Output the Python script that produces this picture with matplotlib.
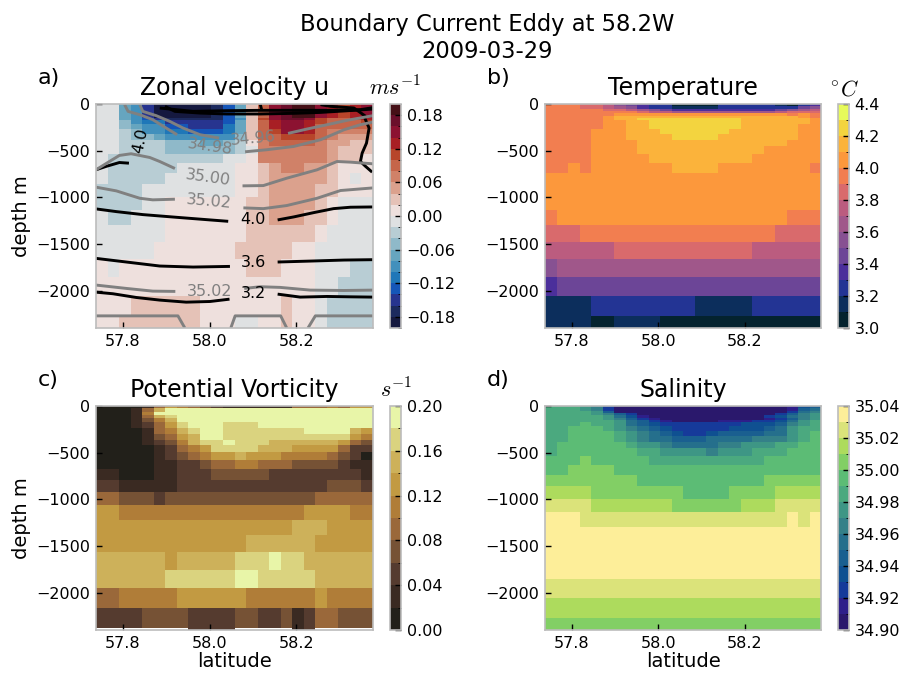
import numpy as np
import matplotlib
matplotlib.use('Agg')
import matplotlib.pyplot as plt
from matplotlib.colors import ListedColormap, BoundaryNorm
from matplotlib.ticker import FuncFormatter

plt.rcParams['mathtext.fontset'] = 'cm'
plt.rcParams['xtick.direction'] = 'in'
plt.rcParams['ytick.direction'] = 'in'
plt.rcParams['axes.edgecolor'] = '#bcbcbc'
plt.rcParams['axes.linewidth'] = 1.2

# grid
lat_edges = np.linspace(57.738, 58.377, 25)
depth_edges = [0, 25, 50, 75, 100, 125, 150, 175, 218, 268, 326, 383, 455, 533, 633, 734,
               859, 992, 1138, 1296, 1475, 1661, 1851, 2059, 2270, 2496]
pv_depth_edges = [0, 25, 61, 97, 132, 175, 240, 301, 365, 419, 490, 580, 680, 795, 920,
                  1063, 1224, 1385, 1564, 1754, 1951, 2162, 2381, 2410]

# colours
u_colors = ['#15193f', '#1c2a5e', '#27348f', '#1556b8', '#1f77b8', '#4290bc', '#66a5bf',
            '#8fb9c9', '#b8cdd4', '#dfe1e2', '#eee0dd', '#e5c2b7', '#dba18d', '#d08168',
            '#c5654a', '#b7452a', '#a81f24', '#8c1231', '#6b0f2b', '#451017']
t_colors = ['#04232f', '#0c2e5c', '#233494', '#4b2f9b', '#6c4597', '#875192', '#a0578a',
            '#bb5c7f', '#d96a6c', '#f27e50', '#fc983c', '#fbb33b', '#f3d43f', '#e7fa5a']
pv_colors = ['#22201a', '#3a2a22', '#553b2f', '#765235', '#9a683a', '#b07d38', '#c29a42',
             '#cdb15a', '#dad37f', '#e8f5a8']
s_colors = ['#2a186c', '#2e1f8a', '#163a9a', '#0f5091', '#1a5f90', '#256f8c', '#348088',
            '#3e9685', '#4ba97f', '#5cbc75', '#82cf65', '#addb5d', '#dbe37a', '#fdee99']

u_top = [-0.01]*2 + [-0.07, -0.09, -0.15] + [-0.19]*5 + [-0.17, -0.13, -0.07, 0.03, 0.09, 0.15, 0.17,
                                                         0.19, 0.19, 0.15, 0.13, 0.11, 0.13, 0.15]
u = [
    u_top, u_top, u_top, u_top, u_top, u_top,
    [-0.01]*2 + [-0.07, -0.09, -0.13, -0.15, -0.17, -0.17] + [-0.17]*3 + [-0.13, -0.09, 0.03, 0.11, 0.15, 0.17, 0.17, 0.15, 0.11, 0.09, 0.09, 0.11, 0.13],
    [-0.01]*2 + [-0.05, -0.09, -0.11, -0.11, -0.15, -0.15] + [-0.15]*3 + [-0.13, -0.07, 0.03, 0.09, 0.13, 0.15, 0.15, 0.13, 0.11, 0.09, 0.09, 0.09, 0.11],
    [-0.01]*2 + [-0.05, -0.07, -0.09, -0.09, -0.13, -0.13] + [-0.15]*3 + [-0.11, -0.07, 0.03, 0.09, 0.13, 0.15, 0.15, 0.13, 0.09, 0.09, 0.09, 0.09, 0.09],
    [-0.01]*2 + [-0.03, -0.05, -0.09, -0.09, -0.11, -0.11] + [-0.13]*3 + [-0.11, -0.07, 0.03, 0.09, 0.11, 0.15, 0.15, 0.13, 0.09, 0.07, 0.07, 0.07, 0.07],
    [-0.01]*2 + [-0.03, -0.05, -0.05, -0.07] + [-0.09]*6 + [-0.05, 0.03, 0.09, 0.09] + [0.11]*3 + [0.09, 0.07, 0.05, 0.05, 0.05],
    [-0.01]*2 + [-0.03]*4 + [-0.05]*3 + [-0.07]*2 + [-0.05, -0.03, 0.01, 0.07] + [0.09]*4 + [0.07, 0.05, 0.05, 0.03, 0.03],
    [-0.01]*2 + [-0.03]*4 + [-0.05]*6 + [-0.03, -0.01] + [0.07]*6 + [0.05, 0.03, 0.03, 0.03],
    [-0.01] + [-0.03]*10 + [-0.01]*2 + [0.01] + [0.07]*6 + [0.05, 0.03, 0.03, 0.01],
    [-0.01] + [-0.03]*6 + [-0.01]*5 + [0.01]*2 + [0.03] + [0.05, 0.07, 0.07, 0.05] + [0.05, 0.03, 0.01, 0.01, 0.01],
    [-0.01] + [-0.03]*5 + [-0.01]*6 + [0.01]*2 + [0.03] + [0.05]*5 + [0.03, 0.01, -0.01, 0.01],
    [-0.03]*4 + [-0.01]*8 + [0.01]*2 + [0.03] + [0.05]*4 + [0.03, 0.03, 0.01, 0.01, 0.01],
    [-0.03]*4 + [-0.01]*2 + [0.01]*7 + [0.03]*2 + [0.05]*4 + [0.03, 0.01] + [-0.01]*3,
    [-0.01, -0.03, -0.03] + [-0.01]*3 + [0.01]*7 + [0.03]*2 + [0.05]*3 + [0.03]*2 + [0.01] + [-0.01]*3,
    [-0.01]*6 + [0.01]*7 + [0.03]*6 + [0.01] + [-0.01]*4,
    [-0.01]*5 + [0.01]*7 + [0.03]*5 + [0.01]*2 + [-0.01]*5,
    [0.01] + [-0.01] + [0.01]*11 + [0.03]*3 + [0.01]*3 + [-0.01]*3 + [-0.03]*2,
    [0.01]*19 + [-0.01]*2 + [-0.03]*3,
    [0.01]*3 + [0.03]*6 + [0.01]*7 + [0.03, 0.01, 0.01, -0.01] + [-0.03]*4,
    [0.01]*2 + [0.03]*7 + [0.01]*3 + [-0.01]*2 + [0.01]*2 + [0.03, 0.01, 0.01, -0.01] + [-0.03]*4,
]

temp = [
    [3.95]*3 + [3.85]*2 + [3.75, 3.55, 3.45, 3.35, 3.25, 3.25] + [3.05]*4 + [3.25]*5 + [3.15, 3.05, 3.25, 3.35],
    [3.95]*3 + [3.85]*2 + [3.75, 3.65, 3.55, 3.35, 3.25, 3.25] + [3.15]*4 + [3.25]*5 + [3.25, 3.25, 3.45, 3.55],
    [3.95]*5 + [3.85] + [3.85, 3.75, 3.65, 3.55, 3.45] + [3.35]*9 + [3.45, 3.55, 3.65, 3.75],
    [3.95]*6 + [3.95, 3.95, 3.85, 3.75, 3.75] + [3.65]*9 + [3.75, 3.85, 3.85, 3.85],
    [3.95]*6 + [4.05]*15 + [3.95, 4.05, 3.95],
    [3.95]*5 + [4.05] + [4.15]*16 + [4.05, 3.95],
    [3.95]*5 + [4.05, 4.15, 4.15, 4.25] + [4.25]*8 + [4.15]*6 + [4.05],
    [3.95]*5 + [4.05, 4.05, 4.15, 4.15] + [4.25]*8 + [4.15]*6 + [4.05],
    [3.95]*5 + [4.05]*2 + [4.15]*2 + [4.25]*8 + [4.15]*5 + [4.05]*2,
    [3.95]*4 + [4.05]*3 + [4.15]*3 + [4.25]*6 + [4.15]*6 + [4.05]*2,
    [3.95]*4 + [4.05]*3 + [4.15]*4 + [4.25]*4 + [4.15]*7 + [4.05]*2,
    [3.95]*4 + [4.05]*4 + [4.15]*13 + [4.05]*3,
    [3.95]*4 + [4.05]*4 + [4.15]*11 + [4.05]*5,
    [3.95]*4 + [4.05]*5 + [4.15]*9 + [4.05]*6,
    [3.95, 3.95, 4.05, 3.95] + [4.05]*7 + [4.15]*4 + [4.05]*8 + [3.95],
    [4.05]*24,
    [4.05]*24,
    [4.05]*24,
    [3.95] + [4.05]*20 + [3.95]*3,
    [3.85]*3 + [3.95]*17 + [3.85]*4,
    [3.75]*6 + [3.85]*12 + [3.75]*6,
    [3.55] + [3.65]*23,
    [3.35] + [3.45]*23,
    [3.15]*4 + [3.25]*9 + [3.15]*5 + [3.25]*6,
    [3.15]*4 + [3.05]*2 + [3.15]*4 + [3.05]*14,
]

nan = float('nan')
pv = [
    [0.01]*4 + [0.03, 0.09, 0.13, 0.11, 0.09, 0.07, 0.05] + [0.03]*6 + [0.09]*3 + [0.11, 0.09, 0.13, 0.13],
    [0.01]*3 + [0.03, 0.09, 0.15] + [0.19]*18,
    [0.01]*3 + [0.03, 0.11, 0.19] + [0.19]*18,
    [0.01]*3 + [0.03, 0.09, 0.15, 0.17] + [0.19]*17,
    [0.01]*3 + [0.03, 0.07, 0.11, 0.15] + [0.19]*17,
    [0.01]*3 + [0.03, 0.05, 0.09, 0.13, 0.17] + [0.19]*3 + [0.17]*3 + [0.19]*10,
    [0.01]*4 + [0.03, 0.09, 0.11, 0.15, 0.17, 0.19, 0.19] + [0.17]*7 + [0.19]*4 + [0.15, 0.13],
    [0.01]*4 + [0.03, 0.07, 0.09, 0.13, 0.15, 0.19, 0.19] + [0.17]*11 + [0.13, 0.11],
    [0.01]*4 + [0.03, 0.05, 0.07, 0.11, 0.15, 0.17, 0.17, 0.19] + [0.17]*3 + [0.15]*6 + [0.13, 0.09, 0.07],
    [0.01]*5 + [0.03, 0.05, 0.09, 0.11, 0.13] + [0.17]*4 + [0.15]*3 + [0.13]*4 + [0.09, 0.05, 0.05],
    [0.01]*5 + [0.03, 0.05, 0.07, 0.09, 0.11, 0.13, 0.13, 0.15] + [0.13]*3 + [0.11]*4 + [0.09, 0.07, 0.05, 0.01],
    [0.01]*5 + [0.03, 0.03, 0.05, 0.05, 0.07, 0.09, 0.09, 0.11, 0.11] + [0.09]*3 + [0.07]*4 + [0.05, 0.03, 0.03],
    [0.03]*2 + [0.01]*3 + [0.03]*2 + [0.05]*3 + [0.07]*5 + [0.05]*8 + [0.03],
    [0.05]*2 + [0.03]*5 + [0.05]*13 + [0.07]*3 + [0.05],
    [0.09]*2 + [0.07]*3 + [0.05] + [0.07]*13 + [0.09]*5,
    [0.13]*2 + [0.11]*16 + [0.13]*4 + [0.11]*2,
    [0.13]*17 + [0.15]*3 + [0.13]*4,
    [0.13]*13 + [0.15]*6 + [0.13]*5,
    [0.15]*6 + [0.13] + [0.15]*5 + [0.17]*3 + [0.19] + [0.17]*2 + [0.15]*6,
    [0.15]*6 + [0.17]*6 + [0.19]*2 + [0.17]*5 + [0.15]*5,
    [0.09]*2 + [0.11]*5 + [0.13]*6 + [0.11]*6 + [0.13] + [0.11]*4,
    [0.05]*4 + [0.07]*4 + [0.05]*4 + [0.07]*2 + [0.05]*2 + [0.07, 0.03, 0.05] + [0.09]*2 + [0.07]*3,
    [nan]*8 + [0.05]*4 + [nan]*5 + [0.03, 0.05] + [nan]*5,
]

salt = [
    [34.985]*3 + [34.975, 34.965, 34.925] + [34.905]*15 + [34.915, 34.935, 34.945],
    [34.985]*3 + [34.975, 34.965, 34.925] + [34.905]*15 + [34.915, 34.945, 34.955],
    [34.985]*3 + [34.985, 34.975, 34.945] + [34.905]*15 + [34.925, 34.955, 34.965],
    [34.985]*4 + [34.975, 34.965, 34.945, 34.925] + [34.905]*12 + [34.925, 34.945, 34.965, 34.975],
    [34.985]*4 + [34.985, 34.975, 34.955, 34.935, 34.915] + [34.905]*10 + [34.925, 34.935, 34.955, 34.965, 34.975],
    [34.985]*5 + [34.975, 34.965, 34.945, 34.925, 34.915] + [34.905]*9 + [34.915, 34.925, 34.945, 34.965, 34.975],
    [34.985]*5 + [34.985, 34.975, 34.955, 34.945, 34.925, 34.915] + [34.905]*4 + [34.915]*3 + [34.925, 34.925, 34.935] + [34.955, 34.975, 34.985],
    [34.985]*3 + [34.995] + [34.985, 34.985, 34.975, 34.955, 34.945, 34.935, 34.925] + [34.925]*6 + [34.935]*3 + [34.945, 34.965, 34.975, 34.985],
    [34.985]*2 + [34.995]*3 + [34.985, 34.975, 34.965, 34.955, 34.945, 34.935] + [34.925]*5 + [34.935]*3 + [34.945, 34.955] + [34.975, 34.985, 34.985],
    [34.985]*2 + [34.995]*4 + [34.985, 34.975, 34.965, 34.955, 34.945, 34.935, 34.925, 34.925, 34.935] + [34.945]*4 + [34.955]*2 + [34.975, 34.985, 34.995],
    [34.985]*2 + [34.995]*4 + [34.985, 34.975, 34.965, 34.955, 34.955] + [34.945]*3 + [34.955]*4 + [34.965]*3 + [34.975, 34.985, 34.995],
    [34.985] + [34.995]*6 + [34.985, 34.975, 34.975, 34.965] + [34.955]*4 + [34.965]*2 + [34.975]*3 + [34.985]*2 + [34.995]*2,
    [34.985] + [34.995]*7 + [34.985]*2 + [34.975]*4 + [34.965] + [34.975]*3 + [34.985]*3 + [34.995]*3,
    [34.995]*3 + [35.005] + [34.995]*5 + [34.985]*10 + [34.995]*5,
    [34.995]*2 + [35.005]*4 + [34.995]*18,
    [35.005]*8 + [34.995]*11 + [35.005]*5,
    [35.015]*4 + [35.005]*8 + [34.995]*4 + [35.005]*4 + [35.015]*4,
    [35.025]*4 + [35.015]*7 + [35.005]*6 + [35.015]*3 + [35.025]*4,
    [35.035]*3 + [35.025]*18 + [35.035, 35.025, 35.035],
    [35.035]*24,
    [35.035]*24,
    [35.035]*24,
    [35.025]*24,
    [35.015]*24,
    [35.005]*24,
]

# temperature isolines on panel a (lat, depth)
temp_lines = [
    ([57.738, 57.785, 57.846, 57.924, 58.001, 58.043], [1124, 1153, 1185, 1214, 1242, 1257]),
    ([58.157, 58.194, 58.240, 58.286, 58.325, 58.377], [1242, 1210, 1164, 1121, 1106, 1103]),
    ([57.738, 57.808, 57.885, 57.962, 58.047], [1654, 1693, 1736, 1747, 1740]),
    ([58.157, 58.232, 58.310, 58.377], [1693, 1683, 1672, 1668]),
    ([57.738, 57.777, 57.831, 57.885, 57.946, 58.001, 58.046], [2016, 2033, 2073, 2101, 2123, 2116, 2091]),
    ([58.157, 58.209, 58.271, 58.325, 58.377], [2037, 2069, 2062, 2066, 2069]),
    ([57.738, 57.761, 57.792, 57.814], [705, 669, 627, 634]),
    ([58.358, 58.368, 58.362, 58.352, 58.348, 58.360, 58.375], [150, 258, 419, 526, 616, 669, 730]),
    ([57.897, 57.920, 57.978, 58.039, 58.117, 58.194, 58.256, 58.333, 58.377], [25, 79, 97, 107, 107, 100, 90, 68, 54]),
    ([57.885, 57.962, 58.039, 58.117, 58.194, 58.271, 58.348, 58.377], [43, 79, 72, 68, 68, 68, 61, 39]),
    ([58.117, 58.120], [4, 61]),
    ([58.256, 58.279, 58.333, 58.360], [7, 25, 43, 132]),
]
# salinity isolines on panel a
salt_lines = [
    ([57.804, 57.812, 57.839, 57.869, 57.900, 57.925], [7, 79, 115, 168, 258, 329]),
    ([58.181, 58.225, 58.271, 58.317, 58.377], [315, 268, 222, 175, 125]),
    ([57.839, 57.846, 57.877, 57.908, 57.939, 57.978, 58.022], [7, 79, 125, 186, 258, 329, 365]),
    ([58.082, 58.132, 58.194, 58.256, 58.310, 58.348, 58.377], [512, 490, 455, 383, 276, 222, 193]),
    ([57.738, 57.769, 57.792, 57.819, 57.862, 57.885, 57.920], [705, 616, 551, 533, 573, 616, 691]),
    ([58.076, 58.124, 58.178, 58.248, 58.294, 58.325, 58.377], [877, 874, 795, 705, 616, 623, 641]),
    ([57.738, 57.785, 57.839, 57.869, 57.920], [891, 931, 1010, 1027, 1020]),
    ([58.078, 58.124, 58.178, 58.248, 58.302, 58.377], [1113, 1121, 1088, 1010, 927, 899]),
    ([57.738, 57.808, 57.869, 57.921], [1940, 1976, 2005, 2008]),
    ([58.080, 58.117, 58.163, 58.232, 58.310, 58.377], [1976, 1958, 1965, 1994, 1998, 1994]),
    ([57.738, 57.927, 57.943], [2270, 2270, 2400]),
    ([58.049, 58.059, 58.164, 58.178], [2400, 2270, 2270, 2400]),
    ([58.227, 58.244, 58.377], [2400, 2270, 2270]),
]
# contour labels: text, lat, depth, angle
temp_labels = [('4.0', 58.100, 1242, 0), ('3.6', 58.101, 1700, 0), ('3.2', 58.101, 2030, 0),
               ('4.0', 57.841, 394, 78)]
salt_labels = [('34.98', 58.002, 462, -8), ('34.96', 58.101, 372, 5), ('35.00', 57.997, 788, -8),
               ('35.02', 57.998, 1045, -5), ('35.02', 58.001, 2005, 0)]

W, H = 902, 673
fig = plt.figure(figsize=(W/100, H/100), dpi=100)


def panel(box, cbox, z_edges, field, colors, vmin, vmax, ticks, fmt, title, units, letter,
          ulabel_x, xlabel=False, ylabel=False):
    x0, y0, x1, y1 = box
    ax = fig.add_axes([x0/W, 1 - y1/H, (x1-x0)/W, (y1-y0)/H])
    cmap = ListedColormap(colors)
    norm = BoundaryNorm(np.linspace(vmin, vmax, len(colors) + 1), len(colors))
    mesh = ax.pcolormesh(lat_edges, -np.array(z_edges), np.array(field), cmap=cmap, norm=norm)
    ax.set_xlim(lat_edges[0], lat_edges[-1])
    ax.set_ylim(-2400, 0)
    ax.set_xticks([57.8, 58.0, 58.2])
    ax.set_yticks([0, -500, -1000, -1500, -2000])
    ax.tick_params(labelsize=11.5, length=4, width=1, top=False, right=False, pad=4)
    ax.set_title(title, fontsize=17, pad=6.5)
    if xlabel:
        ax.set_xlabel('latitude', fontsize=14, labelpad=1)
    if ylabel:
        ax.set_ylabel('depth m', fontsize=14, labelpad=4)
    fig.text((x0 - 58)/W, 1 - (y0 - 26)/H, letter, fontsize=16, va='center')
    fig.text(ulabel_x/W, 1 - (y0 - 9)/H, units, fontsize=16, va='baseline')
    cx0, cx1 = cbox
    cax = fig.add_axes([cx0/W, 1 - y1/H, (cx1-cx0)/W, (y1-y0)/H])
    minus_fmt = FuncFormatter(lambda v, p: (fmt % v).replace('-', '\u2212'))
    cb = fig.colorbar(mesh, cax=cax, ticks=ticks, format=minus_fmt, spacing='proportional')
    cb.ax.tick_params(labelsize=11.5, length=4, width=1, direction='in', pad=4)
    cb.outline.set_edgecolor('#bcbcbc')
    cb.outline.set_linewidth(1.2)
    return ax


ax1 = panel((96, 104, 373, 328), (390, 401), depth_edges, u, u_colors, -0.2, 0.2,
            [-0.18, -0.12, -0.06, 0, 0.06, 0.12, 0.18], '%.2f', 'Zonal velocity u', '$ms^{-1}$',
            'a)', 369, ylabel=True)
panel((545, 104, 821, 328), (838, 849), depth_edges, temp, t_colors, 3.0, 4.4,
      [3.0, 3.2, 3.4, 3.6, 3.8, 4.0, 4.2, 4.4], '%.1f', 'Temperature', r'$^{\circ}C$', 'b)', 830)
panel((96, 406, 373, 630), (390, 401), pv_depth_edges, pv, pv_colors, 0.0, 0.2,
      [0, 0.04, 0.08, 0.12, 0.16, 0.2], '%.2f', 'Potential Vorticity', '$s^{-1}$', 'c)', 380,
      xlabel=True, ylabel=True)
panel((545, 406, 821, 630), (838, 849), depth_edges, salt, s_colors, 34.90, 35.04,
      [34.90, 34.92, 34.94, 34.96, 34.98, 35.00, 35.02, 35.04], '%.2f', 'Salinity', '', 'd)', 828,
      xlabel=True)

for xs, ys in temp_lines:
    ax1.plot(xs, -np.array(ys), color='black', lw=2.1, solid_capstyle='butt')
for xs, ys in salt_lines:
    ax1.plot(xs, -np.array(ys), color='#808080', lw=2.1, solid_capstyle='butt')
for s, x, y, a in temp_labels:
    ax1.text(x, -y, s, color='black', fontsize=11.5, rotation=a, ha='center', va='center')
for s, x, y, a in salt_labels:
    ax1.text(x, -y, s, color='#808080', fontsize=11.5, rotation=a, ha='center', va='center')

fig.suptitle('Boundary Current Eddy at 58.2W\n2009-03-29', fontsize=16.3, x=487/W, y=1 - 13/H, va='top',
             linespacing=1.2)
fig.savefig('out.png', dpi=100)
